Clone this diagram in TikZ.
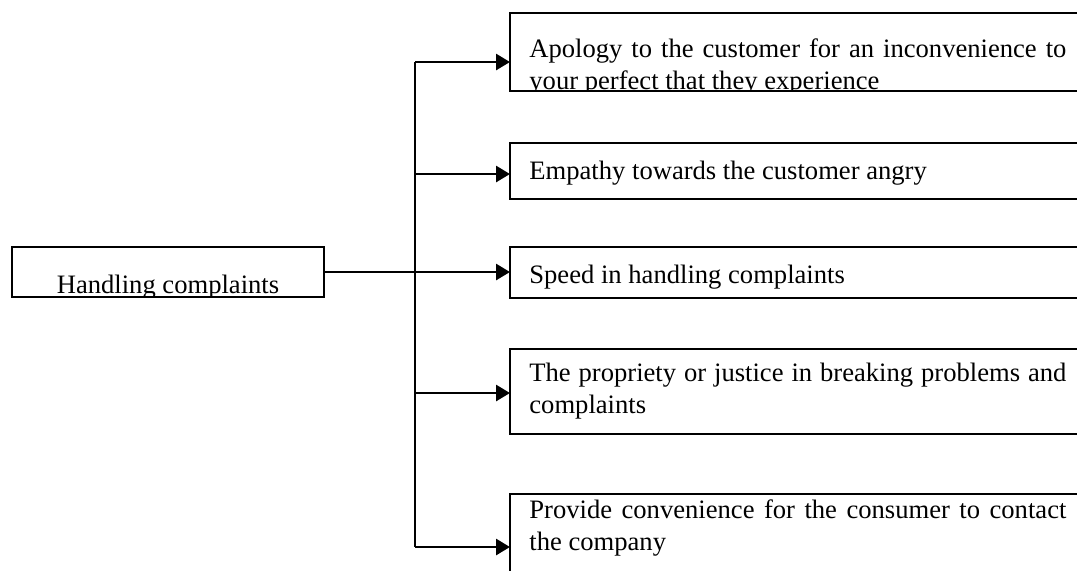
\documentclass[tikz,border=0pt]{standalone}
\usepackage{fontspec}
\setmainfont{Liberation Serif}
\usetikzlibrary{arrows.meta}
\begin{document}
\begin{tikzpicture}[x=0.5pt,y=-0.5pt,
  box/.style={draw=black,line width=1.2pt,inner sep=0pt,outer sep=0pt,anchor=north west},
  conn/.style={line width=1.4pt},
  arr/.style={conn,-{Triangle[length=7pt,width=8pt]}},
  txt/.style={anchor=base west,inner sep=0pt,font=\fontsize{13.3pt}{16pt}\selectfont},
  ctxt/.style={anchor=base,inner sep=0pt,font=\fontsize{13.3pt}{16pt}\selectfont}]
\useasboundingbox (0,0) rectangle (1077,570);
\clip (0,0) rectangle (1077,570);

% left box
\begin{scope}
  \clip (12,247) rectangle (324,297);
  \node[ctxt] (hct) at (168,293) {Handling complaints};
\end{scope}
\node[box,minimum width=156pt,minimum height=25pt] (hc) at (12,247) {};

% box 1
\begin{scope}
  \clip (510,13) rectangle (1100,91);
  \node[txt] (t1a) at (529,57) {\makebox[268.5pt][s]{Apology to the customer for an inconvenience to}};
  \node[txt] (t1b) at (529,89) {your perfect that they experience};
\end{scope}
\node[box,minimum width=295pt,minimum height=39pt] (b1) at (510,13) {};

% box 2
\node[txt] (t2) at (529,179) {Empathy towards the customer angry};
\node[box,minimum width=295pt,minimum height=28pt] (b2) at (510,143) {};

% box 3
\node[txt] (t3) at (529,283) {Speed in handling complaints};
\node[box,minimum width=295pt,minimum height=25.5pt] (b3) at (510,247) {};

% box 4
\node[txt] (t4a) at (529,381) {\makebox[268.5pt][s]{The propriety or justice in breaking problems and}};
\node[txt] (t4b) at (529,413) {complaints};
\node[box,minimum width=295pt,minimum height=42.5pt] (b4) at (510,349) {};

% box 5
\node[txt] (t5a) at (529,518) {\makebox[268.5pt][s]{Provide convenience for the consumer to contact}};
\node[txt] (t5b) at (529,550) {the company};
\node[box,minimum width=295pt,minimum height=60pt] (b5) at (510,494) {};

% connectors
\coordinate (j1) at (415,62);
\coordinate (j2) at (415,174);
\coordinate (j3) at (415,272);
\coordinate (j4) at (415,393);
\coordinate (j5) at (415,547);
\draw[conn] (j1) -- (j5);
\draw[conn] (hc.east) -- (j3);
\draw[arr] (j1) -- (b1.west |- j1);
\draw[arr] (j2) -- (b2.west |- j2);
\draw[arr] (j3) -- (b3.west |- j3);
\draw[arr] (j4) -- (b4.west |- j4);
\draw[arr] (j5) -- (b5.west |- j5);
\end{tikzpicture}
\end{document}
